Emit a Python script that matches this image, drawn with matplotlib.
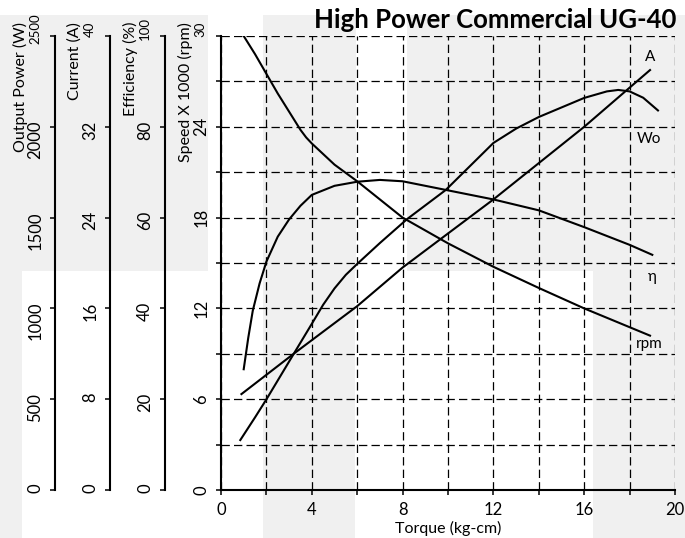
import matplotlib.pyplot as plt
from matplotlib.patches import Rectangle
from matplotlib.ticker import MultipleLocator, FuncFormatter

plt.rcParams['font.family'] = ['Lato', 'DejaVu Sans']
plt.rcParams['lines.scale_dashes'] = False

# ---- data ----
# speed curve (x 1000 rpm)
rpm_torque = [1.0, 1.5, 2.0, 2.5, 3.0, 3.25, 3.5, 3.75, 4.0, 4.5, 5.0, 6.0, 7.0, 8.0, 10.0, 12.0, 14.0, 16.0, 18.9]
rpm_speed = [30.0, 28.8, 27.5, 26.2, 25.0, 24.4, 23.8, 23.3, 22.9, 22.2, 21.5, 20.4, 19.2, 18.0, 16.3, 14.75, 13.35, 12.0, 10.2]

# efficiency curve (%)
eff_torque = [1.0, 1.2, 1.4, 1.7, 2.0, 2.5, 3.0, 3.5, 4.0, 5.0, 6.0, 7.0, 8.0, 10.0, 12.0, 14.0, 16.0, 18.0, 19.0]
eff_pct = [26.6, 33.5, 39.5, 45.5, 50.3, 55.8, 59.6, 62.6, 65.0, 67.0, 67.9, 68.3, 68.0, 66.0, 64.0, 61.6, 57.9, 54.0, 51.8]

# current curve (A)
cur_torque = [0.9, 3.2, 6.0, 8.0, 10.0, 12.0, 14.0, 16.0, 18.9]
cur_amp = [8.45, 12.0, 16.2, 19.6, 22.6, 25.6, 28.8, 32.0, 37.0]

# output power curve (W)
pow_torque = [0.85, 1.5, 2.0, 3.2, 4.0, 4.5, 5.0, 5.5, 6.0, 7.0, 7.5, 8.2, 9.9, 12.0, 13.0,
              14.0, 16.0, 17.0, 17.5, 18.0, 18.6, 19.25]
pow_watt = [275, 400, 499, 749, 915, 1020, 1110, 1185, 1245, 1360, 1415, 1492, 1652, 1911, 1990,
            2054, 2159, 2195, 2203, 2195, 2160, 2090]

curve_labels = ['A', 'Wo', 'η', 'rpm']

W, H = 685, 538
fig = plt.figure(figsize=(W / 100, H / 100), dpi=100)

# light grey background blocks (pixel boxes: x0, y0, x1, y1)
bands = [(0, 15, 208, 271), (263, 15, 356, 271), (407, 15, W, 271),
         (0, 271, 22, H), (263, 271, 355, H), (593, 271, W, H)]
for x0, y0, x1, y1 in bands:
    fig.add_artist(Rectangle((x0 / W, 1 - y1 / H), (x1 - x0) / W, (y1 - y0) / H,
                             transform=fig.transFigure, facecolor='#f0f0f0',
                             edgecolor='none', zorder=-10))

ax = fig.add_axes([221 / W, 48 / H, 454 / W, 454 / H])
ax.patch.set_visible(False)
ax.set_xlim(0, 20)
ax.set_ylim(0, 30)
for s in ['top', 'right']:
    ax.spines[s].set_visible(False)
for s in ['left', 'bottom']:
    ax.spines[s].set_linewidth(1.5)
ax.xaxis.set_major_locator(MultipleLocator(4))
ax.xaxis.set_minor_locator(MultipleLocator(2))
ax.yaxis.set_major_locator(MultipleLocator(6))
ax.yaxis.set_minor_locator(MultipleLocator(3))
ax.grid(which='both', color='black', lw=0.9, ls=(0, (6, 3)))
ax.tick_params(which='both', direction='out', length=3.5, width=1.1, labelsize=12, pad=5)
ax.tick_params(axis='y', labelrotation=90)
ax.yaxis.set_major_formatter(FuncFormatter(lambda v, p: '' if v >= 30 else f'{v:g}'))
for t in ax.get_yticklabels():
    t.set_va('center')
ax.set_xlabel('Torque (kg-cm)', fontsize=11.5, labelpad=2)
ax.plot(rpm_torque, rpm_speed, color='black', lw=1.5)


def side_axis(offset, top, step):
    a = ax.twinx()
    a.patch.set_visible(False)
    a.yaxis.tick_left()
    for s in ['top', 'right', 'bottom']:
        a.spines[s].set_visible(False)
    a.spines['left'].set_visible(True)
    a.spines['left'].set_position(('axes', offset))
    a.spines['left'].set_linewidth(1.5)
    a.set_ylim(0, top)
    a.yaxis.set_major_locator(MultipleLocator(step))
    a.yaxis.set_major_formatter(FuncFormatter(lambda v, p: '' if v >= top else f'{v:g}'))
    a.tick_params(axis='y', direction='out', length=3.5, width=1.1, labelsize=12,
                  pad=5, labelrotation=90)
    return a


ax_eff = side_axis((165 - 221) / 454, 100, 20)
ax_cur = side_axis((110 - 221) / 454, 40, 8)
ax_pow = side_axis((55 - 221) / 454, 2500, 500)

ax_eff.plot(eff_torque, eff_pct, color='black', lw=1.5)
ax_cur.plot(cur_torque, cur_amp, color='black', lw=1.5)
ax_pow.plot(pow_torque, pow_watt, color='black', lw=1.5)

# axis titles and top tick values (drawn squeezed in the original)
axis_titles = ['Output Power (W)', 'Current (A)', 'Efficiency (%)', 'Speed X 1000 (rpm)']
top_values = ['2500', '40', '100', '30']
for i, (name, top) in enumerate(zip(axis_titles, top_values)):
    cx = 20 + 55 * i
    fig.text(cx / W, 1 - 22 / H, name, rotation=90, ha='center', va='top', fontsize=11.5)
    fig.text((cx + 15) / W, 1 - 29 / H, top, rotation=90, ha='center', va='center',
             fontsize=9.5)

fig.text(676 / W, 1 - 8 / H, 'High Power Commercial UG-40', ha='right', va='top',
         fontsize=18.5, fontweight='bold')

# curve names
for name, (x, y) in zip(curve_labels, [(18.9, 28.6), (18.85, 23.2), (19.0, 14.1), (18.85, 9.65)]):
    ax.text(x, y, name, ha='center', va='center', fontsize=11)

fig.savefig('out.png', dpi=100)
